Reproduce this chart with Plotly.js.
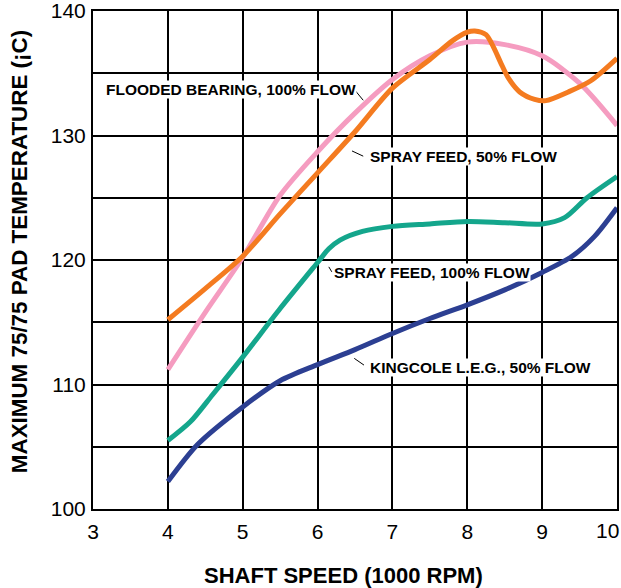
<!DOCTYPE html>
<html>
<head>
<meta charset="utf-8">
<script src="https://cdn.plot.ly/plotly-3.0.1.min.js"></script>
<style>html,body{margin:0;padding:0;background:#fff;}#chart{width:621px;height:588px;}</style>
</head>
<body>
<div id="chart"></div>
<script>
// ---- data ----
var floodedX = [4, 4.5, 5, 5.5, 6, 6.5, 7, 7.5, 8, 8.5, 9, 9.5, 10];
var floodedY = [111.2, 115.8, 120.2, 125.2, 128.7, 131.8, 134.5, 136.4, 137.5, 137.3, 136.4, 134.2, 130.8];

var spray50X = [4, 4.5, 5, 5.5, 6, 6.5, 7, 7.5, 7.8, 8, 8.1, 8.25, 8.35, 8.45, 8.55, 8.7, 8.9, 9.05, 9.35, 9.65, 10];
var spray50Y = [115.2, 117.7, 120.3, 123.7, 127.0, 130.3, 133.8, 136.1, 137.6, 138.3, 138.4, 138.1, 137.1, 135.8, 134.6, 133.5, 132.9, 132.8, 133.5, 134.4, 136.2];

var spray100X = [4, 4.3, 4.6, 5, 5.5, 6, 6.15, 6.3, 6.6, 7, 7.5, 8, 8.5, 9, 9.3, 9.6, 10];
var spray100Y = [105.5, 107.0, 109.2, 112.2, 116.1, 119.8, 120.9, 121.6, 122.3, 122.7, 122.9, 123.1, 123.0, 122.9, 123.4, 125.0, 126.7];

var kingX = [4, 4.4, 5, 5.5, 6, 6.5, 7, 7.5, 8, 8.5, 9, 9.4, 9.7, 10];
var kingY = [102.2, 105.2, 108.2, 110.3, 111.6, 112.8, 114.1, 115.3, 116.4, 117.6, 119.0, 120.3, 121.9, 124.2];

var seriesNames = ["FLOODED BEARING, 100% FLOW", "SPRAY FEED, 50% FLOW", "SPRAY FEED, 100% FLOW", "KINGCOLE L.E.G., 50% FLOW"];

var xTickVals = [3, 4, 5, 6, 7, 8, 9, 10];
var xTickText = ["3", "4", "5", "6", "7", "8", "9", "10"];
var yTickVals = [100, 105, 110, 115, 120, 125, 130, 135, 140];
var yTickText = ["100", "", "110", "", "120", "", "130", "", "140"];

var xTitle = "SHAFT SPEED (1000 RPM)";
var yTitle = "MAXIMUM 75/75 PAD TEMPERATURE (¡C)";

// ---- styling ----
var FONT = "Liberation Sans, Arial, Helvetica, sans-serif";
var colors = ["#f59cc0", "#f47b20", "#14a68c", "#2c3f92"];

function mk(x, y, i) {
  return {x: x, y: y, name: seriesNames[i], type: "scatter", mode: "lines",
    line: {color: colors[i], width: 5, shape: "spline", smoothing: 0.8}, hoverinfo: "skip"};
}
var traces = [mk(floodedX, floodedY, 0), mk(spray50X, spray50Y, 1), mk(spray100X, spray100Y, 2), mk(kingX, kingY, 3)];

// label positions (layout only)
var labelPos = [
  {x: 3.16, y: 133.67, lx0: 6.50, ly0: 133.63, lx1: 6.61, ly1: 132.83},
  {x: 6.69, y: 128.28, lx0: 6.46, ly0: 128.76, lx1: 6.61, ly1: 128.34},
  {x: 6.21, y: 119.02, lx0: 6.15, ly0: 119.45, lx1: 6.19, ly1: 119.05},
  {x: 6.69, y: 111.37, lx0: 6.49, ly0: 112.10, lx1: 6.62, ly1: 111.56}
];
var annotations = labelPos.map(function (p, i) {
  return {x: p.x, y: p.y, xref: "x", yref: "y", text: seriesNames[i], showarrow: false,
    xanchor: "left", yanchor: "middle", bgcolor: "#ffffff", borderpad: 0,
    font: {family: FONT, size: 15.5, color: "#000", weight: "bold"}};
});
// axis titles (placed as in the reference)
annotations.push({xref: "paper", yref: "paper", x: 0.479, y: -0.134, text: xTitle, showarrow: false,
  xanchor: "center", yanchor: "middle", font: {family: FONT, size: 22, color: "#000", weight: "bold"}});
annotations.push({xref: "paper", yref: "paper", x: -0.14, y: 0.517, text: yTitle, showarrow: false, textangle: -90,
  xanchor: "center", yanchor: "middle", font: {family: FONT, size: 22.4, color: "#000", weight: "bold"}});
// last x tick label sits against the right edge in the reference
var lastI = xTickVals.length - 1;
annotations.push({xref: "x", yref: "paper", x: xTickVals[lastI], y: 0, text: xTickText[lastI], showarrow: false,
  xanchor: "right", yanchor: "middle", xshift: 4, yshift: -21,
  font: {family: FONT, size: 21, color: "#000"}});
var xTickTextShown = xTickText.map(function (t, i) { return i === lastI ? "" : t; });

var shapes = labelPos.map(function (p) {
  return {type: "line", xref: "x", yref: "y", x0: p.lx0, y0: p.ly0, x1: p.lx1, y1: p.ly1,
    line: {color: "#000", width: 1}};
});

var axisCommon = {
  showgrid: true, gridcolor: "#000", gridwidth: 2,
  showline: true, linecolor: "#000", linewidth: 2, mirror: true,
  zeroline: false, ticks: "", tickfont: {family: FONT, size: 21, color: "#000"},
  ticklabeloverflow: "allow", fixedrange: true
};

var layout = {
  width: 621, height: 588,
  margin: {l: 93, r: 4, t: 11, b: 79},
  paper_bgcolor: "#fff", plot_bgcolor: "#fff",
  showlegend: false,
  font: {family: FONT, color: "#000"},
  xaxis: Object.assign({}, axisCommon, {
    range: [3, 10], tickvals: xTickVals, ticktext: xTickTextShown, ticklabelstandoff: 3
  }),
  yaxis: Object.assign({}, axisCommon, {
    range: [100, 140], tickvals: yTickVals, ticktext: yTickText, ticklabelstandoff: 1
  }),
  annotations: annotations,
  shapes: shapes
};

Plotly.newPlot("chart", traces, layout, {displayModeBar: false, staticPlot: true});
</script>
</body>
</html>
